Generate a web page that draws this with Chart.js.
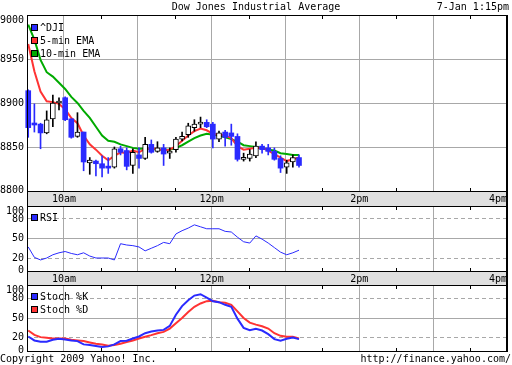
<!DOCTYPE HTML>
<html>
<head>
<meta charset="utf-8">
<title>Dow Jones Industrial Average</title>
<script src="https://cdn.jsdelivr.net/npm/chart.js@4.4.1/dist/chart.umd.min.js"></script>
<style>
    body { margin: 0; background: #fff; }
    #page { position: relative; width: 512px; height: 365px; overflow: hidden;
            font: 10px "DejaVu Sans Mono", monospace; color: #000; }
    #page canvas { position: absolute; left: 0; }
    .lbl { position: absolute; line-height: 12px; white-space: pre; }
</style>
</head>
<body>
<div id="page">
    <canvas id="price" width="512" height="206" style="top:0"></canvas>
    <canvas id="rsi" width="512" height="79" style="top:206px"></canvas>
    <canvas id="stoch" width="512" height="80" style="top:285px"></canvas>
    <div class="lbl" style="left:0;width:512px;text-align:center;top:1px">Dow Jones Industrial Average</div>
    <div class="lbl" style="right:3px;top:1px">7-Jan 1:15pm</div>
    <div class="lbl" style="left:0;top:353px">Copyright 2009 Yahoo! Inc.</div>
    <div class="lbl" style="right:1px;top:353px">http://finance.yahoo.com/</div>
</div>
<script>
    // 5-minute bars, 9:30 to 13:10
    var barTimes = ['9:30','9:35','9:40','9:45','9:50','9:55',
        '10:00','10:05','10:10','10:15','10:20','10:25','10:30','10:35','10:40','10:45','10:50','10:55',
        '11:00','11:05','11:10','11:15','11:20','11:25','11:30','11:35','11:40','11:45','11:50','11:55',
        '12:00','12:05','12:10','12:15','12:20','12:25','12:30','12:35','12:40','12:45','12:50','12:55',
        '13:00','13:05','13:10'];
    var opens  = [8914,8876,8876,8866,8882,8900,8906,8882,8862,8867,8832,8834,8831,8827,8827,8848,8846,8829,8841,8837,8853,8845,8849,8843,8847,8859,8864,8872,8876,8878,8876,8859,8867,8866,8862,8836,8837,8840,8851,8849,8845,8837,8827,8833,8838];
    var highs  = [8915,8899,8877,8891,8909,8906,8907,8882,8889,8867,8838,8835,8840,8838,8850,8851,8849,8848,8849,8861,8858,8856,8853,8849,8861,8867,8877,8881,8884,8881,8878,8868,8869,8876,8865,8843,8847,8856,8853,8853,8849,8840,8835,8841,8841];
    var lows   = [8861,8867,8848,8865,8873,8892,8880,8860,8861,8823,8819,8817,8816,8820,8826,8841,8824,8820,8826,8836,8843,8844,8829,8837,8844,8857,8861,8868,8872,8872,8849,8856,8851,8852,8834,8834,8834,8838,8843,8841,8835,8821,8820,8827,8827];
    var closes = [8872,8875,8866,8881,8900,8902,8881,8861,8867,8833,8835,8831,8826,8826,8848,8844,8828,8844,8837,8853,8844,8849,8842,8844,8859,8862,8874,8876,8877,8873,8859,8866,8861,8862,8836,8837,8842,8851,8847,8845,8836,8826,8832,8838,8829];
    var ema5   = [8967,8936,8913,8902,8901,8899,8893,8883,8877,8863,8853,8847,8840,8835,8840,8844,8843,8846,8844,8848,8848,8848,8846,8847,8851,8857,8863,8868,8871,8869,8865,8864,8863,8860,8851,8847,8848,8849,8849,8846,8842,8838,8834,8836,8838];
    var ema10  = [8989,8972,8949,8935,8930,8923,8916,8907,8900,8891,8883,8873,8863,8857,8856,8853,8851,8849,8848,8848,8848,8847,8847,8847,8849,8852,8856,8860,8863,8865,8864,8863,8861,8859,8856,8852,8851,8850,8849,8847,8846,8843,8842,8841,8841];
    var rsi    = [37,21,17,20,25,28,30,27,25,28,23,20,20,20,17,42,40,39,37,31,35,39,44,42,57,62,66,71,68,65,65,65,61,60,52,45,43,54,49,43,36,29,25,28,32];
    var stochK = [22,16,14,14,17,18.5,17.5,16,15,10,9,7.5,6,7,10,15,15.5,19,22,27,29.5,31,32,38,55,68,77,84,86,81,75.5,74,70,67,49,35,31.5,33.5,31,25.5,18,15.5,18.5,20.5,18];
    var stochD = [31,24.5,21,20,19,19,19,17,16,15,13,11,10,8,9,11,13.5,16,19,21.5,24,27,29,34,42,50,59,67,72,75.5,76,74,73,70,60,50,43,40,37.5,34,27,23,21.5,21.5,19];

    var priceTicks = [8800, 8850, 8900, 8950, 9000];
    var oscTicks = [0, 20, 50, 80, 100];
    var dashedLevels = [20, 80];
    var hourTimes = ['10:00','11:00','12:00','13:00','14:00','15:00','16:00'];
    var halfTimes = ['10:30','11:30','12:30','13:30','14:30','15:30'];
    var bandTimes = ['10:00','12:00','14:00','16:00'];
    var bandLabels = ['10am','12pm','2pm','4pm'];

    var BLUE = '#2a2aff', RED = '#ff3333', GREEN = '#00aa00', GRID = '#a8a8a8', BAND = '#e0e0e0';
    var FONT = '10px "DejaVu Sans Mono"';

    // minutes after the 9:30 open
    function toMin(t) {
        var p = t.split(':');
        return (+p[0]) * 60 + (+p[1]) - 570;
    }
    // bars sit a minute into their 5-min slot
    function barX(t) { return toMin(t) + 1; }

    function points(values) {
        return values.map(function(v, i) { return {x: barX(barTimes[i]), y: v}; });
    }

    // frame, time band, half-hour ticks, y labels and legend
    var panelDeco = {
        id: 'panelDeco',
        afterDraw: function(chart, args, opts) {
            var ctx = chart.ctx;
            var a = chart.chartArea;
            var xs = chart.scales.x, ys = chart.scales.y;
            var left = Math.round(a.left), right = Math.round(a.right);
            var top = Math.round(a.top), bottom = Math.round(a.bottom);
            ctx.save();
            ctx.font = FONT;

            if (opts.band) {
                ctx.fillStyle = BAND;
                ctx.fillRect(left, bottom + 1, right - left, opts.band - 1);
                ctx.fillStyle = '#000';
                ctx.fillRect(left, bottom, 1, opts.band);
                ctx.fillRect(right - 1, bottom, 2, opts.band);
                ctx.textAlign = 'center';
                ctx.textBaseline = 'middle';
                bandTimes.forEach(function(t, i) {
                    var px = xs.getPixelForValue(toMin(t));
                    var w = ctx.measureText(bandLabels[i]).width;
                    px = Math.min(px, right - w / 2);
                    ctx.fillText(bandLabels[i], px, bottom + opts.band / 2 + 1);
                });
            }

            ctx.fillStyle = '#000';
            halfTimes.forEach(function(t) {
                var px = Math.round(xs.getPixelForValue(toMin(t)));
                ctx.fillRect(px, top + 1, 1, 3);
                ctx.fillRect(px, bottom - 3, 1, 3);
            });

            ctx.fillRect(left, top, right - left + 1, 1);
            ctx.fillRect(left, bottom, right - left + 1, 1);
            ctx.fillRect(left, top, 1, bottom - top + 1);
            ctx.fillRect(right - 1, top, 2, bottom - top + 1);

            ctx.textAlign = 'right';
            ctx.textBaseline = 'middle';
            opts.yTicks.forEach(function(v) {
                var py = ys.getPixelForValue(v);
                py = Math.max(top + 5, Math.min(bottom - 1, py));
                ctx.fillText(String(v), left - 3, py);
            });

            ctx.textAlign = 'left';
            ctx.strokeStyle = '#000';
            ctx.lineWidth = 1;
            opts.legend.forEach(function(it, k) {
                var sy = top + opts.legendTop + 13 * k;
                ctx.fillStyle = it.color;
                ctx.fillRect(left + 4, sy, 7, 7);
                ctx.strokeRect(left + 4.5, sy + 0.5, 6, 6);
                ctx.fillStyle = '#000';
                ctx.fillText(it.text, left + 13, sy + 4);
            });
            ctx.restore();
        }
    };

    function panelOptions(yMin, yMax, deco) {
        return {
            responsive: false,
            animation: false,
            events: [],
            layout: {padding: {left: 27, right: 5, top: deco.top, bottom: deco.pad}},
            plugins: {legend: {display: false}, tooltip: {enabled: false}, panelDeco: deco},
            scales: {
                x: {
                    type: 'linear', min: 0, max: 390, offset: false,
                    ticks: {display: false},
                    border: {display: false},
                    grid: {color: GRID, drawTicks: false, offset: false},
                    afterBuildTicks: function(s) {
                        s.ticks = hourTimes.map(function(t) { return {value: toMin(t)}; });
                    }
                },
                y: {
                    type: 'linear', min: yMin, max: yMax,
                    ticks: {display: false},
                    grid: {color: GRID, drawTicks: false},
                    border: {
                        display: false,
                        dash: function(c) {
                            return c.tick && dashedLevels.indexOf(c.tick.value) >= 0 ? [4, 3] : [];
                        }
                    },
                    afterBuildTicks: function(s) {
                        s.ticks = deco.yTicks.map(function(v) { return {value: v}; });
                    }
                }
            }
        };
    }

    var upBody = [], downBody = [], upWick = [], downWick = [];
    for (var i = 0; i < barTimes.length; i++) {
        var x = barX(barTimes[i]);
        if (closes[i] >= opens[i]) {
            upBody.push({x: x, y: [opens[i], closes[i]]});
            upWick.push({x: x, y: [lows[i], highs[i]]});
        } else {
            downBody.push({x: x, y: [closes[i], opens[i]]});
            downWick.push({x: x, y: [lows[i], highs[i]]});
        }
    }

    new Chart(document.getElementById('price'), {
        type: 'bar',
        data: {
            datasets: [
                {label: '^DJI', data: upBody, order: 0, grouped: false, clip: false, barThickness: 5, minBarLength: 2,
                 backgroundColor: '#fff', borderColor: '#000', borderWidth: 1, borderSkipped: false},
                {label: '^DJI', data: downBody, order: 0, grouped: false, clip: false, barThickness: 5, minBarLength: 2,
                 backgroundColor: BLUE, borderWidth: 0},
                {label: '^DJI', data: upWick, order: 1, grouped: false, clip: false, barThickness: 1,
                 backgroundColor: '#000', borderWidth: 0},
                {label: '^DJI', data: downWick, order: 1, grouped: false, clip: false, barThickness: 1,
                 backgroundColor: BLUE, borderWidth: 0},
                {type: 'line', label: '5-min EMA', data: points(ema5), order: 2,
                 borderColor: RED, borderWidth: 2, pointRadius: 0, fill: false},
                {type: 'line', label: '10-min EMA', data: points(ema10), order: 2,
                 borderColor: GREEN, borderWidth: 2, pointRadius: 0, fill: false}
            ]
        },
        options: panelOptions(8800, 9000, {
            top: 15, pad: 15, band: 15, yTicks: priceTicks, legendTop: 9,
            legend: [{text: '^DJI', color: BLUE}, {text: '5-min EMA', color: RED}, {text: '10-min EMA', color: GREEN}]
        }),
        plugins: [panelDeco]
    });

    new Chart(document.getElementById('rsi'), {
        type: 'line',
        data: {
            datasets: [{label: 'RSI', data: points(rsi), borderColor: BLUE, borderWidth: 1, pointRadius: 0, fill: false}]
        },
        options: panelOptions(0, 100, {
            top: 0, pad: 14, band: 14, yTicks: oscTicks, legendTop: 8,
            legend: [{text: 'RSI', color: BLUE}]
        }),
        plugins: [panelDeco]
    });

    new Chart(document.getElementById('stoch'), {
        type: 'line',
        data: {
            datasets: [
                {label: 'Stoch %K', data: points(stochK), borderColor: BLUE, borderWidth: 2, pointRadius: 0, fill: false},
                {label: 'Stoch %D', data: points(stochD), borderColor: RED, borderWidth: 2, pointRadius: 0, fill: false}
            ]
        },
        options: panelOptions(0, 100, {
            top: 0, pad: 14, band: 0, yTicks: oscTicks, legendTop: 8,
            legend: [{text: 'Stoch %K', color: BLUE}, {text: 'Stoch %D', color: RED}]
        }),
        plugins: [panelDeco]
    });
</script>
</body>
</html>
